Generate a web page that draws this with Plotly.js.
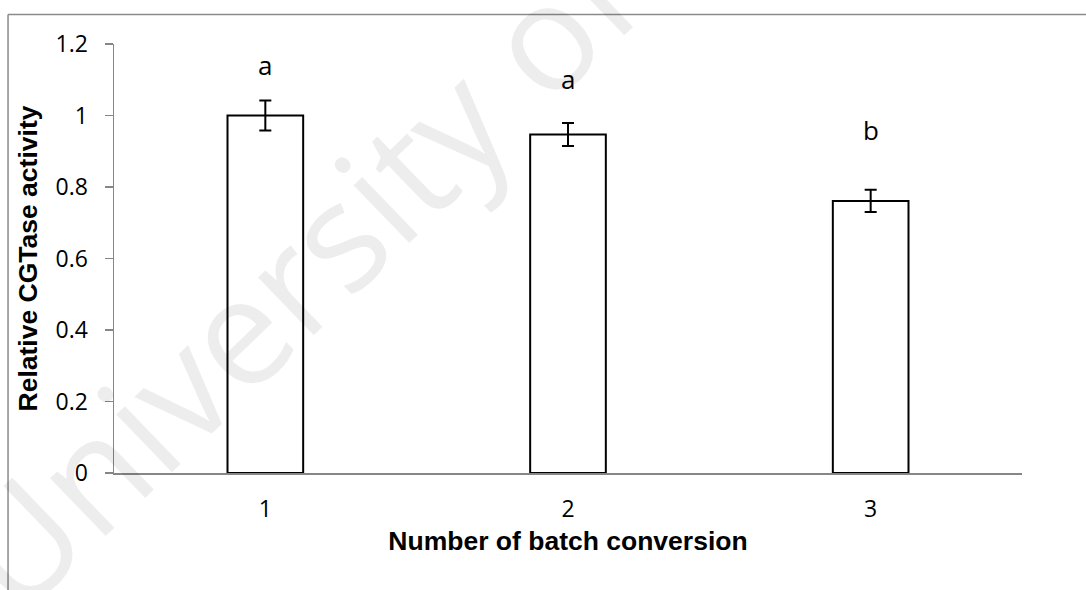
<!DOCTYPE html>
<html>
<head>
<meta charset="utf-8">
<script src="https://cdn.plot.ly/plotly-3.0.1.min.js"></script>
<style>
  html, body { margin: 0; padding: 0; background: #ffffff; }
  #chart { width: 1086px; height: 590px; }
</style>
</head>
<body>
<div id="chart"></div>
<script>
// Batch conversion runs and relative CGTase activity
const batches = ['1', '2', '3'];
const activity = [1.0, 0.947, 0.761];
const activityErr = [0.042, 0.032, 0.031];
// Significance groups and the heights where they are written
const groupLetters = ['a', 'a', 'b'];
const letterHeights = [1.14, 1.103, 0.96];
const yTicks = [0, 0.2, 0.4, 0.6, 0.8, 1, 1.2];

const axisGrey = '#868686';
const tickFont = { family: 'Open Sans, Noto Sans, sans-serif', size: 23, color: '#000000' };
const titleFont = { family: 'Liberation Sans, Arial, sans-serif', size: 26.5, color: '#000000', weight: 'bold' };

const trace = {
  type: 'bar',
  x: batches,
  y: activity,
  width: 0.25,
  marker: { color: '#ffffff', line: { color: '#000000', width: 2 } },
  error_y: { type: 'data', array: activityErr, visible: true, color: '#000000', thickness: 2, width: 6 },
  hoverinfo: 'skip'
};

// Category positions are given by index so the letters sit over their bars
const letterNotes = batches.map((b, i) => ({
  x: i, y: letterHeights[i], xref: 'x', yref: 'y',
  text: groupLetters[i], showarrow: false,
  font: { family: 'Open Sans, Noto Sans, sans-serif', size: 26, color: '#000000' }
}));

// Faint watermark across the figure
const watermark = {
  xref: 'paper', yref: 'paper', x: 0.41, y: 2.22,
  text: 'University of Malaya', showarrow: false, textangle: -44,
  font: { family: 'Open Sans, sans-serif', size: 150, color: 'rgba(0,0,0,0.07)' }
};

// Outer frame: left and top edges of the surrounding chart box
const frame = [
  { type: 'line', xref: 'paper', yref: 'paper', x0: -0.1167, x1: -0.1167, y0: 1.069, y1: -0.273,
    line: { color: '#8a8a8a', width: 1.5 } },
  { type: 'line', xref: 'paper', yref: 'paper', x0: -0.1167, x1: 1.1, y0: 1.069, y1: 1.069,
    line: { color: '#8a8a8a', width: 1.5 } }
];

const layout = {
  width: 1086, height: 590,
  margin: { l: 114, r: 64, t: 44, b: 117 },
  paper_bgcolor: '#ffffff', plot_bgcolor: '#ffffff',
  showlegend: false,
  xaxis: {
    type: 'category', range: [-0.5, 2.5],
    showline: true, linecolor: axisGrey, linewidth: 2,
    showgrid: false, zeroline: false, ticks: '',
    tickfont: tickFont, ticklabelstandoff: 14,
    title: { text: 'Number of batch conversion', font: titleFont, standoff: 9 }
  },
  yaxis: {
    range: [0, 1.2], tickvals: yTicks, ticktext: yTicks.map(String),
    showline: true, linecolor: axisGrey, linewidth: 1.5,
    ticks: 'outside', ticklen: 8, tickcolor: axisGrey, tickwidth: 1.5,
    showgrid: false, zeroline: false,
    tickfont: tickFont, ticklabelstandoff: 12,
    title: { text: 'Relative CGTase activity', font: titleFont, standoff: 10 }
  },
  annotations: [watermark].concat(letterNotes),
  shapes: frame
};

Plotly.newPlot('chart', [trace], layout, { displayModeBar: false, staticPlot: true });
</script>
</body>
</html>
